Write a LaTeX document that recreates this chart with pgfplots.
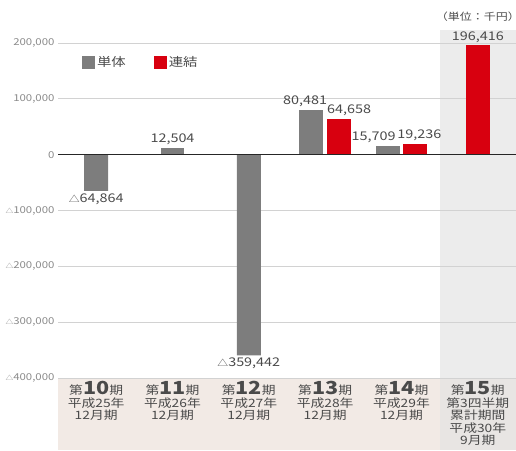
\documentclass[border=0pt]{standalone}
\usepackage{pgfplots}
\pgfplotsset{compat=1.18}
\usepackage{fontspec}
\setmainfont{Noto Sans CJK JP}[FakeStretch=1.2]
\definecolor{barGray}{HTML}{7D7D7D}
\definecolor{barRed}{HTML}{D8000F}
\definecolor{beige}{HTML}{F2EAE5}
\definecolor{colGray}{HTML}{ECECEC}
\definecolor{colGrayB}{HTML}{E8E5E3}
\definecolor{txt}{HTML}{4A4A4A}
\definecolor{tick}{HTML}{8A8A8A}
\definecolor{gridc}{HTML}{D2D2D2}
\newcommand{\bignum}[1]{{\fontsize{18}{16}\selectfont\bfseries #1}}
\newcommand{\tri}{{\fontsize{9}{9}\selectfont △}}
\newcommand{\ttri}{{\fontsize{6.5}{7}\selectfont △}}
\begin{document}
\begin{tikzpicture}
\begin{axis}[
  name=ax,
  set layers=standard,
  scale only axis,
  width=458pt, height=450pt,
  xmin=-0.5, xmax=5.5,
  ymin=-529000, ymax=277000,
  axis line style={draw=none},
  clip=false,
  ybar, bar shift=0pt, bar width=0.314,
  ytick={-400000,-300000,-200000,-100000,0,100000,200000},
  yticklabels={{\ttri400,000},{\ttri300,000},{\ttri200,000},{\ttri100,000},{0},{100,000},{200,000}},
  yticklabel style={font=\fontsize{9.5}{10}\selectfont, text=tick},
  ymajorgrids,
  grid style={gridc, line width=0.8pt},
  major tick length=0pt,
  xtick={0,1,2,3,4,5},
  xticklabels={
    {第\bignum{10}期\\平成25年\\12月期},
    {第\bignum{11}期\\平成26年\\12月期},
    {第\bignum{12}期\\平成27年\\12月期},
    {第\bignum{13}期\\平成28年\\12月期},
    {第\bignum{14}期\\平成29年\\12月期},
    {第\bignum{15}期\\第3四半期\\累計期間\\平成30年\\9月期}},
  xticklabel style={anchor=north, yshift=72pt, align=center, text=txt,
    font=\fontsize{11.5}{12.5}\selectfont},
  nodes near coords,
  point meta=explicit symbolic,
  every node near coord/.append style={font=\fontsize{12}{13}\selectfont, text=txt, inner sep=2.5pt},
  legend columns=2,
  legend style={at={(rel axis cs:0.052,0.862)}, anchor=west, draw=none, fill=none,
    inner sep=0pt, font=\fontsize{12}{13}\selectfont, text=txt,
    /tikz/every even column/.append style={column sep=26pt}},
  legend image code/.code={\fill[#1] (0pt,-6.5pt) rectangle (13pt,6.5pt);},
]
\begin{pgfonlayer}{axis background}
  \fill[beige] (axis cs:-0.5,-400000) rectangle (axis cs:4.5,-529000);
  \fill[colGray] (axis cs:4.5,223300) rectangle (axis cs:5.5,-400000);
  \fill[colGrayB] (axis cs:4.5,-400000) rectangle (axis cs:5.5,-529000);
\end{pgfonlayer}
% 単体
\addplot[fill=barGray, draw=none] coordinates {(1,12504) [12,504]};
\addplot[fill=barGray, draw=none, forget plot,
  every node near coord/.append style={anchor=north}] coordinates {
  (0,-64864) [\tri64,864]
  (2,-359442) [\tri359,442]
};
\addplot[fill=barGray, draw=none, forget plot,
  every node near coord/.append style={xshift=-6pt}] coordinates {(2.817,80481) [80,481]};
\addplot[fill=barGray, draw=none, forget plot,
  every node near coord/.append style={xshift=-14pt}] coordinates {(3.817,15709) [15,709]};
% 連結
\addplot[fill=barRed, draw=none] coordinates {(5,196416) [196,416]};
\addplot[fill=barRed, draw=none, forget plot,
  every node near coord/.append style={xshift=10pt}] coordinates {(3.183,64658) [64,658]};
\addplot[fill=barRed, draw=none, forget plot,
  every node near coord/.append style={xshift=4pt}] coordinates {(4.183,19236) [19,236]};
\legend{単体,連結}
\draw[black!85, line width=1.2pt] (axis cs:-0.5,0) -- (axis cs:5.5,0);
\node[text=txt, font=\fontsize{10}{11}\selectfont] at (axis cs:5,247000) {（単位：千円）};
\end{axis}
\pgfresetboundingbox
\path[use as bounding box] ([xshift=-58pt]ax.south west) rectangle (ax.north east);
\end{tikzpicture}
\end{document}
